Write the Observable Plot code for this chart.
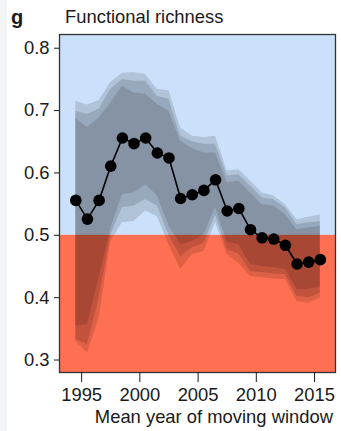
<!DOCTYPE html>
<html><head><meta charset="utf-8">
<script src="https://cdn.jsdelivr.net/npm/d3@7"></script>
<script src="https://cdn.jsdelivr.net/npm/@observablehq/plot@0.6"></script>
<style>
body{margin:0;background:#fff;font-family:"Liberation Sans",Arial,sans-serif;}
#wrap{position:relative;width:341px;height:431px;overflow:hidden;background:#fff}
.t{position:absolute;white-space:nowrap;color:#1a1a1a;line-height:1;}
#strip{position:absolute;left:0;top:0;width:7px;height:431px;background:#f3f4f6}
#chart{position:absolute;left:0;top:0}
</style></head><body>
<div id="wrap">
<div id="strip"></div>
<div id="chart"></div>
<div class="t" style="left:11px;top:7px;font-size:20px;font-weight:bold">g</div>
<div class="t" style="left:65px;top:8px;font-size:18.4px">Functional richness</div>
<div class="t" style="right:8px;top:408px;font-size:18.4px">Mean year of moving window</div>
</div>
<script>
const years = [1994.5,1995.5,1996.5,1997.5,1998.5,1999.5,2000.5,2001.5,2002.5,2003.5,2004.5,2005.5,2006.5,2007.5,2008.5,2009.5,2010.5,2011.5,2012.5,2013.5,2014.5,2015.5];
const richness = [0.556,0.526,0.556,0.611,0.656,0.647,0.656,0.632,0.624,0.559,0.565,0.572,0.589,0.539,0.543,0.509,0.496,0.494,0.484,0.454,0.457,0.461];
const outerHi = [0.715,0.709,0.716,0.745,0.760,0.761,0.758,0.734,0.732,0.672,0.659,0.657,0.659,0.603,0.605,0.587,0.568,0.563,0.549,0.525,0.529,0.533];
const middleHi = [0.699,0.694,0.702,0.734,0.750,0.747,0.747,0.723,0.718,0.659,0.650,0.646,0.646,0.595,0.597,0.579,0.560,0.557,0.544,0.517,0.520,0.522];
const innerHi = [0.688,0.673,0.688,0.712,0.739,0.728,0.726,0.710,0.699,0.651,0.639,0.632,0.632,0.584,0.587,0.568,0.549,0.547,0.533,0.509,0.512,0.514];
const innerLo = [0.354,0.357,0.431,0.510,0.565,0.568,0.581,0.563,0.515,0.485,0.490,0.500,0.545,0.489,0.485,0.453,0.450,0.448,0.445,0.413,0.413,0.418];
const middleLo = [0.333,0.325,0.399,0.500,0.544,0.547,0.557,0.547,0.500,0.466,0.480,0.487,0.532,0.477,0.470,0.442,0.440,0.438,0.437,0.402,0.400,0.407];
const outerLo = [0.330,0.311,0.367,0.490,0.520,0.522,0.539,0.530,0.485,0.445,0.469,0.474,0.520,0.469,0.455,0.434,0.432,0.430,0.429,0.394,0.391,0.399];
const xDomain = [1993.1, 2016.8];
const yDomain = [0.28, 0.822];
const threshold = 0.5;
const xTicks = [1995, 2000, 2005, 2010, 2015];
const yTicks = [0.3, 0.4, 0.5, 0.6, 0.7, 0.8];

const data = years.map((x, i) => ({x, y: richness[i], oh: outerHi[i], ol: outerLo[i], mh: middleHi[i], ml: middleLo[i], ih: innerHi[i], il: innerLo[i]}));
const zones = [
  {x1: xDomain[0], x2: xDomain[1], y1: threshold, y2: yDomain[1], c: "#cbe0fa"},
  {x1: xDomain[0], x2: xDomain[1], y1: yDomain[0], y2: threshold, c: "#ff6f51"}
];
const bandFill = "#000", bandOp = 0.13;
const chart = Plot.plot({
  width: 341, height: 431,
  marginLeft: 59, marginRight: 6, marginTop: 34, marginBottom: 59,
  style: {fontFamily: "'Liberation Sans', Arial, sans-serif", fontSize: "18.4px", color: "#1a1a1a", background: "transparent"},
  x: {domain: xDomain},
  y: {domain: yDomain},
  marks: [
    Plot.rect(zones, {x1: "x1", x2: "x2", y1: "y1", y2: "y2", fill: "c"}),
    Plot.areaY(data, {x: "x", y1: "ol", y2: "oh", fill: bandFill, fillOpacity: bandOp}),
    Plot.areaY(data, {x: "x", y1: "ml", y2: "mh", fill: bandFill, fillOpacity: bandOp}),
    Plot.areaY(data, {x: "x", y1: "il", y2: "ih", fill: bandFill, fillOpacity: bandOp}),
    Plot.line(data, {x: "x", y: "y", stroke: "#000", strokeWidth: 1.6}),
    Plot.dot(data, {x: "x", y: "y", r: 5.8, fill: "#000"}),
    Plot.frame({stroke: "#333", strokeWidth: 1.3}),
    Plot.axisX({ticks: xTicks, tickFormat: d => String(d), tickSize: 10, tickPadding: 5, label: null, fontSize: 18.4}),
    Plot.axisY({ticks: yTicks, tickFormat: d => d.toFixed(1), tickSize: 5, tickPadding: 5, label: null, fontSize: 18.4})
  ]
});
document.getElementById("chart").appendChild(chart);
</script>
</body></html>
